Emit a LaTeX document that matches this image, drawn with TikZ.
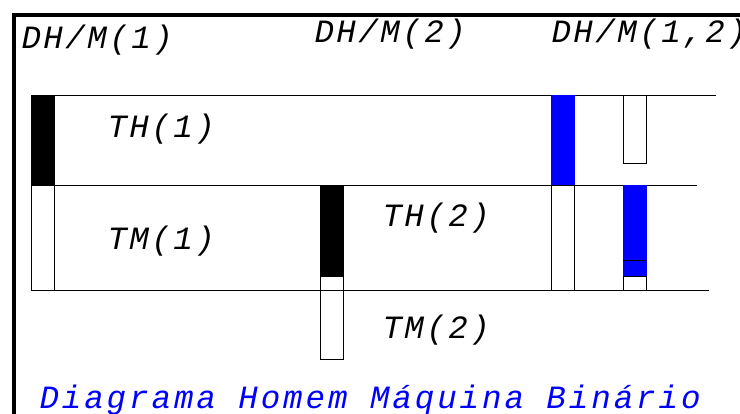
\documentclass[tikz,border=0pt]{standalone}
\usepackage{fontspec}
\newfontfamily\cadfont[LetterSpace=7.7]{Liberation Mono}
\usetikzlibrary{calc}
\tikzset{
  rotulo/.style={font=\cadfont\itshape\fontsize{32.5}{34}\selectfont,anchor=base west,inner sep=0pt},
  homem/.style={fill=black,draw=black},
  maquina/.style={fill=blue,draw=black},
  livre/.style={fill=white,draw=black}
}
\begin{document}
\begin{tikzpicture}[x=1pt,y=-1pt,line width=1pt]
                                     \useasboundingbox (0,0) rectangle (740,414);
                                     \draw[line width=4pt] (14,414) -- (14,15) -- (740,15);
                                     \node[rotulo](dhm1)at(21,49){DH/M(1)};
                                     \node[rotulo](dhm2)at(314,43){DH/M(2)};
                                     \node[rotulo](dhm12)at(551,43){DH/M(1,2)};
                                     \draw (31,96) -- (716,96);
                                     \draw (31,186) -- (697,186);
                                     \draw (31,291) -- (709,291);
                                     \draw[homem] (31,96) rectangle (54,186);
                                     \draw[livre] (31,186) rectangle (54,291);
                                     \draw[homem] (320,186) rectangle (343,277);
                                     \draw[livre] (320,277) rectangle (343,360);
                                     \draw (320,291) -- (343,291);
                                     \draw[maquina,draw=blue] (551,96) rectangle (574,186);
                                     \draw[livre] (551,186) rectangle (574,291);
                                     \draw[livre] (623,96) rectangle (646,164);
                                     \draw[maquina,draw=blue] (623,186) rectangle (646,277);
                                     \draw (623,261) -- (646,261);
                                     \draw[livre] (623,277) rectangle (646,291);
                                     \node[rotulo](th1)at(107,138){TH(1)};
                                     \node[rotulo](tm1)at(107,250){TM(1)};
                                     \node[rotulo](th2)at(382,227){TH(2)};
                                     \node[rotulo](tm2)at(382,339){TM(2)};
                                     \node[rotulo,text=blue](titulo)at(39,409){\addfontfeature{LetterSpace=9}Diagrama Homem Máquina Binário};
                                 \end{tikzpicture}
\end{document}
